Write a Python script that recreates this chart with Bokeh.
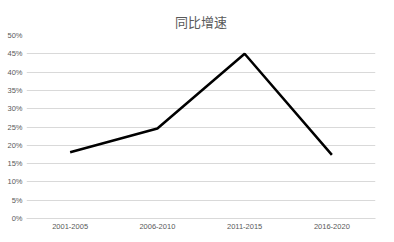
from bokeh.plotting import figure
from bokeh.models import NumeralTickFormatter, FixedTicker, Range1d, FactorRange
from bokeh.embed import file_html
from bokeh.resources import INLINE

categories = ["2001-2005", "2006-2010", "2011-2015", "2016-2020"]
growth = [0.181, 0.246, 0.450, 0.174]
y_ticks = [0.0, 0.05, 0.10, 0.15, 0.20, 0.25, 0.30, 0.35, 0.40, 0.45, 0.50]
title_text = "同比增速"

p = figure(width=394, height=242, x_range=FactorRange(*categories, range_padding=0),
           y_range=Range1d(0, 0.5), output_backend="svg", toolbar_location=None,
           min_border_left=26, min_border_right=19, min_border_top=35, min_border_bottom=24)
p.title.text = title_text
p.title.align = "center"
p.title.text_font = "Noto Sans CJK SC"
p.title.text_font_size = "13px"
p.title.text_font_style = "normal"
p.title.text_color = "#595959"
p.title.standoff = 9
p.outline_line_color = None

p.line(categories, growth, line_color="black", line_width=2.5)

p.yaxis.ticker = FixedTicker(ticks=y_ticks)
p.yaxis.formatter = NumeralTickFormatter(format="0%")
p.yaxis.axis_line_color = None
p.yaxis.major_tick_line_color = None
p.yaxis.minor_tick_line_color = None
p.yaxis.major_tick_out = 0
p.yaxis.major_tick_in = 0
p.yaxis.major_label_text_font_size = "7.5px"
p.yaxis.major_label_text_color = "#595959"
p.yaxis.major_label_text_font = "Liberation Sans"
p.yaxis.major_label_standoff = 4

p.xaxis.axis_line_color = "#d9d9d9"
p.xaxis.major_tick_line_color = None
p.xaxis.minor_tick_line_color = None
p.xaxis.major_tick_out = 0
p.xaxis.major_tick_in = 0
p.xaxis.major_label_text_font_size = "7.5px"
p.xaxis.major_label_text_color = "#595959"
p.xaxis.major_label_text_font = "Liberation Sans"
p.xaxis.major_label_standoff = 5

p.xgrid.grid_line_color = None
p.ygrid.grid_line_color = "#d9d9d9"
p.ygrid.grid_line_width = 1

open("out.html", "w").write(file_html(p, INLINE))
